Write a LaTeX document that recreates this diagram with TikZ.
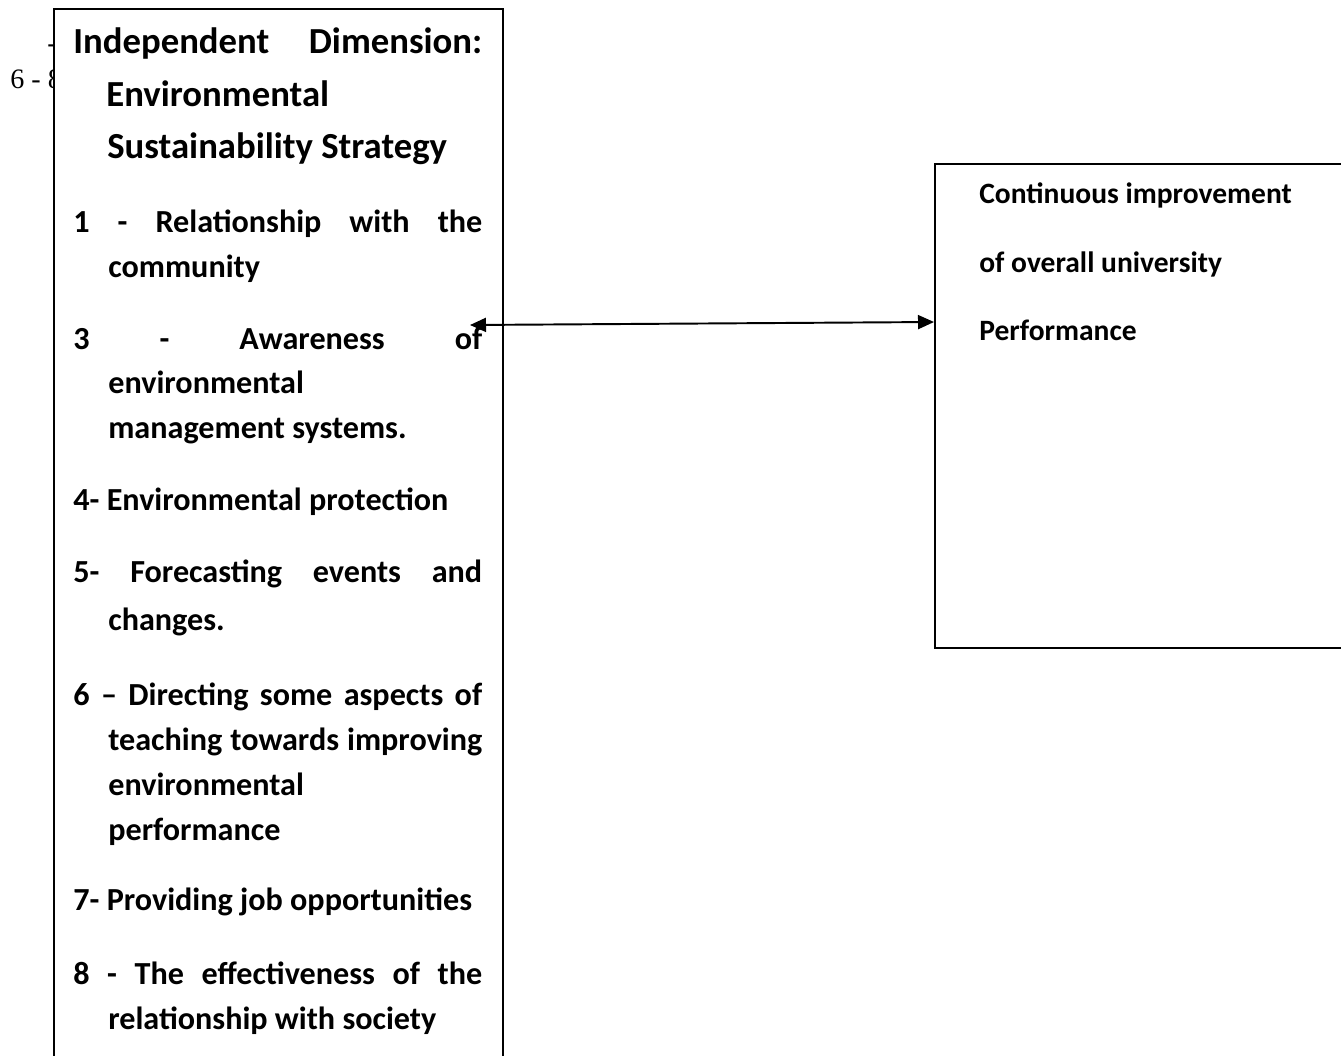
\documentclass[tikz,border=0pt]{standalone}
\usepackage{fontspec}
\setmainfont{Carlito}
\newfontfamily\pageserif{Liberation Serif}
\usetikzlibrary{arrows.meta}
\tikzset{>={Triangle[length=3.2mm,width=2.8mm]}}
\tikzset{
  framebox/.style={draw, line width=1.1pt, fill=white, inner sep=0pt},
  headline/.style={anchor=base west, inner sep=0pt, font=\fontsize{20.9}{24}\selectfont\bfseries},
  itemline/.style={anchor=base west, inner sep=0pt, font=\fontsize{18.3}{21}\selectfont\bfseries},
  perfline/.style={anchor=base west, inner sep=0pt, font=\fontsize{16.8}{20}\selectfont\bfseries},
}
\newcommand{\fullline}[1]{\makebox[8.18cm][s]{#1}}

\begin{document}
\begin{tikzpicture}[x=0.02cm,y=-0.02cm]
    \useasboundingbox (0,0) rectangle (1341,1055);
    % page text behind the box
    \node[anchor=base west, inner sep=0pt, font=\pageserif\fontsize{16}{18}\selectfont] (pg) at (10,88) {6 - 8};
    \node[anchor=base west, inner sep=0pt, font=\pageserif\fontsize{16}{18}\selectfont] (pd) at (47,52) {-};

    \node[framebox, anchor=north west, minimum width=8.98cm, minimum height=21.6cm] (dimbox) at (53,8) {};
    \node[framebox, anchor=north west, minimum width=8.6cm, minimum height=9.68cm] (perf) at (934,163) {};

    % independent dimension
    \node[headline] (h1) at (73,53) {\fullline{Independent Dimension:}};
    \node[headline] (h2) at (106,106) {Environmental};
    \node[headline] (h3) at (107,158) {Sustainability Strategy};

    \node[itemline] (a1) at (73,232) {\fullline{1 - Relationship with the}};
    \node[itemline] (a2) at (108,277) {community};
    \node[itemline] (b1) at (73,349) {\fullline{3 - Awareness of}};
    \node[itemline] (b2) at (108,393) {environmental};
    \node[itemline] (b3) at (108,438) {management systems.};
    \node[itemline] (c1) at (73,510) {4- Environmental protection};
    \node[itemline] (d1) at (73,582) {\fullline{5- Forecasting events and}};
    \node[itemline] (d2) at (108,630) {changes.};
    \node[itemline] (e1) at (73,705) {\fullline{6 – Directing some aspects of}};
    \node[itemline] (e2) at (108,750) {\makebox[7.48cm][s]{teaching towards improving}};
    \node[itemline] (e3) at (108,795) {environmental};
    \node[itemline] (e4) at (108,840) {performance};
    \node[itemline] (f1) at (73,910) {7- Providing job opportunities};
    \node[itemline] (g1) at (73,984) {\fullline{8 - The effectiveness of the}};
    \node[itemline] (g2) at (108,1029) {relationship with society};

    % dependent dimension
    \node[perfline] (p1) at (979,203) {Continuous improvement};
    \node[perfline] (p2) at (979,272) {of overall university};
    \node[perfline] (p3) at (979,340) {Performance};

    \coordinate (la) at (470,325);
    \coordinate (ra) at (934,322);
    \draw[<->, line width=1.1pt] (la) -- (ra);
\end{tikzpicture}
\end{document}
